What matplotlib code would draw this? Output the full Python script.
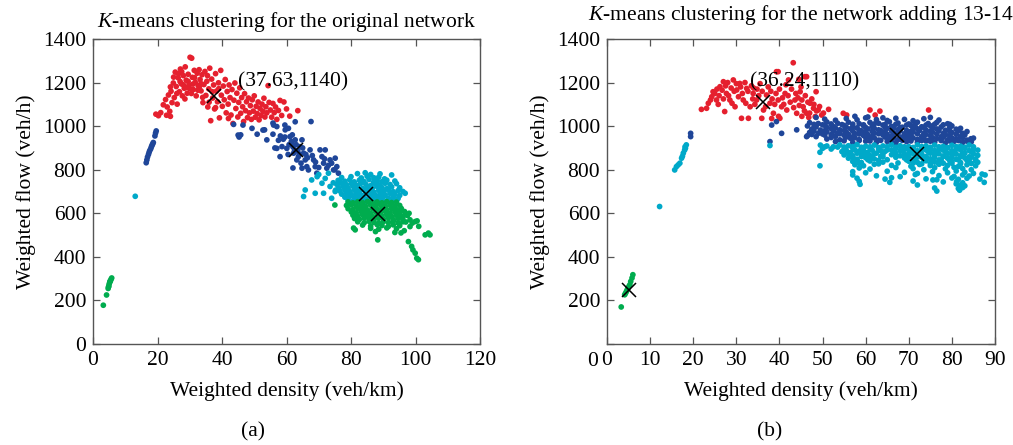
import numpy as np
import matplotlib
matplotlib.use("Agg")
import matplotlib.pyplot as plt

plt.rcParams['font.family'] = ['Liberation Serif', 'DejaVu Serif']
plt.rcParams['mathtext.fontset'] = 'custom'
plt.rcParams['mathtext.it'] = 'Liberation Serif:italic'
plt.rcParams['mathtext.rm'] = 'Liberation Serif'

# ---- panel (a): original network ----
a_red = [(19.5,1055),(20.3,1048),(21.0,1062),(21.8,1098),(22.5,1122),(23.0,1088),(23.4,1143),(23.8,1068),
         (24.2,1160),(24.5,1108),(24.9,1198),(25.2,1131),(25.5,1248),(25.8,1182),(26.1,1101),(26.4,1222),
         (26.8,1158),(27.1,1262),(27.4,1194),(27.7,1139),(28.0,1232),(28.3,1174),(28.6,1272),(28.9,1211),
         (29.2,1151),(29.5,1238),(29.8,1188),(30.1,1316),(30.6,1312),(30.8,1224),(31.1,1168),(31.4,1256),
         (31.7,1201),(32.0,1139),(32.3,1243),(32.6,1186),(32.9,1259),(33.2,1214),(33.5,1162),(33.8,1236),
         (34.1,1108),(34.4,1191),(34.7,1251),(35.0,1141),(35.3,1206),(35.6,1088),(35.9,1171),(36.2,1266),
         (36.5,1025),(36.8,1216),(37.1,1129),(37.4,1189),(37.7,1079),(38.0,1241),(38.3,1161),(38.6,1112),
         (38.9,1199),(39.2,1038),(39.6,1256),(39.8,1142),(40.1,1091),(40.4,1184),(40.7,1121),(41.0,1214),
         (41.3,1061),(41.6,1159),(41.9,1101),(42.2,1189),(42.5,1131),(42.8,1051),(43.1,1168),(43.4,1012),
         (43.7,1119),(44.0,1198),(44.3,1081),(44.6,1151),(44.9,1042),(45.2,1109),(45.5,1176),(45.8,1059),
         (46.1,1131),(46.4,1089),(46.7,1021),(47.0,1149),(47.3,1071),(47.6,1112),(47.9,1039),(48.2,1129),
         (48.5,1061),(48.8,1094),(49.1,1031),(49.4,1121),(49.7,1069),(50.0,1139),(50.3,1041),(50.6,1091),
         (50.9,1058),(51.2,1111),(51.5,1029),(51.8,1081),(52.1,1049),(52.4,1101),(52.7,1068),(53.0,1128),
         (53.3,1042),(53.6,1089),(53.9,1061),(54.3,1186),(54.6,1109),(55.0,1074),(55.4,1041),(55.8,1104),
         (56.2,1062),(56.6,1088),(57.0,1031),(57.5,1072),(58.0,1118),(58.5,1049),(59.2,1111),(60.0,1079),
         (61.0,1046),(63.5,1071),(26.5,1240),(27.0,1205),(28.0,1190),(29.0,1178),(30.0,1172),(31.0,1193),
         (33.0,1182),(34.0,1132),(24.0,1180),(25.0,1225),(26.0,1150),(27.5,1250),(29.5,1205),(31.5,1222),
         (33.5,1195),(35.5,1232),(37.0,1158),(39.0,1172),(30.5,1150),(28.5,1125),(32.5,1165),(22.8,1050),
         (24.0,1045),(36.0,1110),(42.0,1035),(38.0,1085)]

a_blue = [(16.5,832),(16.7,845),(16.9,858),(17.2,870),(17.4,880),(17.6,888),(17.9,896),(18.1,905),
          (18.3,912),(18.5,918),(18.7,925),(19.2,955),(19.4,968),(19.6,978),
          (43.6,1008),(45.3,950),(45.8,960),(49.3,990),(50.9,963),(53.2,983),(53.9,937),(55.8,963),
          (56.0,1005),(57.0,998),(58.1,955),(58.6,906),(59.6,983),(60.1,898),(60.6,990),(61.1,952),
          (61.7,921),(62.2,876),(62.7,1020),(62.7,937),(63.2,845),(63.7,860),(64.2,906),(64.8,937),
          (64.8,807),(65.3,876),(65.8,845),(66.3,814),(66.8,799),(67.3,891),(67.6,1021),(68.4,845),
          (68.9,814),(69.4,784),(70.4,891),(71.0,860),(71.5,830),(72.0,891),(72.5,807),(73.5,845),
          (74.6,799),(75.1,853),(75.6,814),(76.1,784),(61.5,930),(62.0,905),(63.0,915),(63.5,885),
          (64.0,870),(62.5,890),(60.8,915),(61.8,960),(59.0,940),(60.5,870),(65.0,900),(66.0,870),
          (64.5,830),(66.5,855),(68.0,865),(69.0,835),(70.0,810),(71.8,850),(73.0,820),(74.0,830),
          (75.0,800),(57.5,935),(59.5,950),(45.0,959),(46.5,1005),(52.7,982),(55.8,1014),(59.5,1005),
          (56.4,900),(58.0,860),(62.0,808),(57.0,898)]

a_cyan = [(13.1,678),(65.3,677),(65.8,707),(67.8,753),(68.9,692),(71.0,738),(71.5,692),(73.0,784),
          (73.5,723),(74.0,669),(75.1,700),(70.0,778),(72.0,760),(69.5,768),(76.5,748),(74.5,740),
          (82.0,782),(84.4,786),(86.1,778),(89.0,781),(92.6,776),
          (77.1,764),(80.0,768),(83.2,762),(85.0,770),(87.1,763),(88.6,766),(90.4,758),
          (76.0,751),(78.1,747),(79.6,754),(81.0,744),(82.6,752),(84.0,746),(85.6,755),(87.0,742),
          (88.1,749),(89.6,745),(91.1,752),(93.6,748),
          (75.6,733),(77.0,738),(78.6,731),(80.1,736),(81.6,729),(83.0,737),(84.6,733),(86.1,727),
          (87.6,735),(89.0,730),(90.6,738),(92.1,732),(94.1,736),
          (76.1,718),(77.6,722),(79.1,716),(80.6,724),(82.1,719),(83.6,714),(85.1,721),(86.6,716),
          (88.1,723),(89.6,718),(91.1,713),(92.6,721),(95.1,717),
          (75.2,706),(76.6,702),(78.1,708),(79.6,701),(81.1,706),(82.6,699),(84.1,707),(85.6,703),
          (87.1,697),(88.6,705),(90.1,701),(91.6,707),(93.1,699),(94.6,704),(96.1,700),
          (77.1,688),(78.6,693),(80.1,686),(81.6,691),(83.1,684),(84.6,692),(86.1,687),(87.6,683),
          (89.1,690),(90.6,685),(92.1,692),(93.6,687),(95.1,682),(96.8,692),
          (78.1,674),(79.6,678),(81.1,671),(82.6,677),(84.1,672),(85.6,668),(87.1,676),(88.6,671),
          (90.1,677),(91.6,670),(93.1,675),(94.6,668),
          (79.1,661),(80.6,657),(82.1,663),(83.6,656),(85.1,660),(86.6,664),(88.1,657),(89.6,662),
          (91.1,655),(92.6,660),(94.1,657),
          (80.2,648),(82.1,650),(84.1,646),(86.1,651),(88.1,647),(90.1,650),(92.1,646)]

a_green = [(79.1,652),(80.6,648),(82.1,653),(83.6,649),(85.1,654),(86.6,650),(88.1,652),(89.6,648),
           (91.1,653),(92.6,649),(94.1,651),
           (78.6,636),(80.1,639),(81.6,633),(83.1,637),(84.6,632),(86.1,638),(87.6,634),(89.1,639),
           (90.6,633),(92.1,637),(93.6,632),(95.1,636),
           (79.1,621),(80.6,617),(82.1,623),(83.6,619),(85.1,615),(86.6,622),(88.1,618),(89.6,624),
           (91.1,616),(92.6,621),(94.1,617),(95.6,622),
           (80.1,606),(81.6,602),(83.1,608),(84.6,604),(86.1,600),(87.6,607),(89.1,603),(90.6,609),
           (92.1,601),(93.6,606),(95.1,602),(96.6,608),
           (80.6,591),(82.1,587),(83.6,593),(85.1,589),(86.6,585),(88.1,592),(89.6,588),(91.1,594),
           (92.6,586),(94.1,591),(95.6,587),(97.1,593),
           (81.1,576),(82.6,572),(84.1,578),(85.6,574),(87.1,570),(88.6,577),(90.1,573),(91.6,579),
           (93.1,571),(94.6,576),(96.1,572),
           (82.1,561),(84.1,557),(85.6,563),(87.1,559),(88.6,555),(90.1,562),(91.6,558),(93.1,564),
           (94.6,556),(96.1,561),
           (83.6,546),(86.1,542),(88.1,548),(89.6,544),(91.6,540),(93.1,547),(95.1,543),
           (86.1,531),(88.6,527),(91.1,533),(94.1,529),(87.6,516),(93.6,512),
           (98.3,570),(99.9,562),(98.8,448),(99.9,417),(100.4,394),(100.9,387),(103.0,501),(104.0,509),
           (104.5,501),(98.3,539),(97.5,590),(98.0,600),(97.0,560),(96.5,520),(95.5,510),(80.8,532),
           (81.3,524),(88.3,478),(75.0,638),(99.0,555),(101.0,540),(100.5,565),(97.8,470),(99.2,432),
           (96.0,585),
           (3.2,178),(4.2,225),(4.7,255),(4.9,265),(5.0,275),(5.2,283),(5.4,290),(5.6,297),(5.8,303),
           (4.8,262),(5.3,288)]

a_centers = [(37.63,1140),(62.9,891),(84.7,689),(88.3,597)]

# ---- panel (b): network adding 13-14 ----
b_red = [(21.9,1077),(23.1,1082),(24.3,1135),(24.6,1158),(25.4,1120),(26.2,1181),(27.0,1204),(27.3,1067),
         (27.7,1150),(28.5,1120),(29.3,1212),(29.7,1089),(30.1,1166),(30.8,1196),(31.2,1036),(31.6,1120),
         (32.4,1173),(32.8,1036),(33.2,1089),(33.9,1150),(34.7,1120),(35.9,1036),(36.3,1074),(37.0,1143),
         (37.8,1105),(38.6,1059),(39.3,1250),(39.7,1120),(40.1,1036),(40.5,1089),(41.3,1150),(41.7,1074),
         (42.1,1212),(43.2,1291),(43.6,1120),(44.0,1059),(44.8,1158),(45.5,1089),(45.9,1227),(46.3,1059),
         (47.1,1105),(47.9,1082),(48.3,1044),(49.0,1074),(49.8,1051),(51.4,1077),(54.8,1059),(55.6,1051),
         (61.0,1074),(62.2,1051),(74.6,1074),
         (23.5,1105),(24.0,1120),(25.0,1150),(25.8,1100),(26.0,1140),(26.7,1165),(27.5,1185),(28.0,1200),
         (28.2,1140),(28.8,1175),(29.0,1105),(29.5,1160),(30.5,1135),(31.0,1180),(31.4,1150),(32.0,1200),
         (32.2,1105),(32.7,1160),(33.5,1185),(33.8,1125),(34.3,1100),(34.8,1170),(35.2,1140),(35.5,1195),
         (36.0,1160),(36.8,1090),(37.4,1180),(38.0,1160),(38.3,1125),(38.9,1100),(39.2,1150),(40.0,1170),
         (40.7,1130),(41.0,1100),(41.5,1190),(42.0,1140),(42.5,1110),(42.8,1170),(43.3,1085),(43.8,1150),
         (44.3,1130),(44.6,1095),(45.0,1180),(45.2,1120),(45.8,1070),(46.0,1140),(46.6,1110),(47.0,1060),
         (47.5,1125),(48.0,1100),(48.6,1070),(49.3,1090),(50.2,1060),(46.8,1040),(45.2,1045),(44.5,1215),
         (38.2,1035),(39.8,1045),(34.0,1175),(30.0,1195),(27.0,1125),(25.5,1170),(48.5,1158),(46.3,1227),
         (39.7,1250),(63.3,1069)]

b_blue = [(50.5,1032),(53.0,1027),(55.5,1035),(58.0,1029),(60.0,1038),(62.5,1030),(65.0,1026),(67.0,1036),
          (69.0,1031),(71.0,1025),(73.5,1034),(77.0,1028),
          (47.0,1016),(49.0,1012),(51.0,1019),(53.5,1013),(56.0,1018),(58.5,1011),(61.0,1017),(63.0,1013),
          (65.5,1020),(67.5,1014),(70.0,1010),(72.0,1018),(74.5,1012),(76.5,1017),(79.0,1011),
          (48.0,1008),(50.0,1006),(52.0,1010),(54.5,1007),(57.0,1009),(59.5,1006),(62.0,1010),(64.5,1007),
          (67.0,1009),(69.5,1005),(71.5,1008),(74.0,1005),(76.0,1009),(78.0,1006),
          (46.5,1001),(48.5,997),(50.5,1004),(52.5,998),(55.0,1003),(57.0,996),(59.5,1002),(61.5,998),
          (64.0,1005),(66.0,999),(68.5,995),(70.5,1003),(73.0,997),(75.0,1002),(77.5,996),(80.0,1001),
          (48.0,992),(51.0,994),(53.0,991),(55.5,995),(58.0,992),(60.0,994),(62.0,990),(64.5,995),
          (66.5,991),(68.0,993),(71.0,990),(73.5,994),(75.5,991),(79.5,993),(82.0,990),
          (47.5,986),(49.5,982),(52.0,989),(54.0,983),(56.5,988),(58.5,981),(60.5,987),(63.0,983),
          (65.0,990),(67.5,984),(69.5,980),(72.0,988),(74.0,982),(76.5,987),(78.5,981),(81.0,986),
          (48.0,977),(50.5,979),(52.5,976),(55.0,980),(57.0,977),(59.0,979),(61.5,976),(63.5,980),
          (66.0,977),(68.0,979),(70.5,976),(72.5,980),(75.0,977),(77.0,979),(79.5,976),(81.5,978),
          (83.5,975),
          (47.0,971),(49.0,967),(51.0,974),(53.5,968),(55.5,973),(57.5,966),(60.0,972),(62.0,968),
          (64.5,975),(66.5,969),(69.0,965),(71.0,973),(73.5,967),(75.5,972),(78.0,966),(80.0,971),
          (82.5,967),
          (47.5,962),(50.0,964),(52.0,961),(54.0,965),(56.0,962),(58.5,964),(60.5,961),(63.0,965),
          (65.0,962),(67.5,964),(70.0,961),(72.0,965),(74.0,962),(76.5,964),(78.5,961),(81.0,963),
          (83.0,960),
          (46.5,956),(48.5,952),(50.5,959),(53.0,953),(55.0,958),(57.0,951),(59.5,957),(61.5,953),
          (64.0,960),(66.0,954),(68.5,950),(70.5,958),(73.0,952),(75.0,957),(77.5,951),(79.5,956),
          (82.0,952),(84.4,942),
          (52.0,948),(55.5,950),(57.5,947),(60.0,949),(62.0,946),(64.5,950),(66.5,947),(69.0,949),
          (71.0,946),(73.5,950),(75.5,947),(78.0,949),(80.0,946),(82.5,948),(85.0,945),
          (51.0,941),(54.0,937),(56.5,944),(58.5,938),(61.0,943),(63.0,936),(65.5,942),(67.5,938),
          (70.0,945),(72.0,939),(74.5,935),(76.5,943),(79.0,937),(81.0,942),(83.5,936),
          (55.0,933),(58.5,934),(61.0,932),(63.5,935),(66.0,933),(68.5,935),(70.5,932),(73.0,934),
          (75.0,931),(77.5,934),(79.5,932),(81.5,934),(83.5,931),
          (53.0,929),(57.0,925),(60.0,931),(62.5,926),(65.0,930),(67.0,924),(69.5,929),(72.0,925),
          (74.0,932),(76.0,926),(78.5,923),(80.5,930),(82.5,925),(84.5,928),
          (37.8,929),(38.2,1005),(39.3,1021),(40.5,967),(44.0,983),(46.3,952),(19.4,967),(19.4,952),
          (75.0,1040),(79.5,1008),(60.5,1042),(64.0,1038),(48.5,1040),(57.5,1045)]

b_cyan = [(49.5,913),(51.0,909),(54.0,914),(56.0,910),(58.0,915),(60.0,908),(62.0,913),(64.0,909),
          (66.0,915),(68.0,910),(70.0,906),(72.0,914),(74.0,909),(76.0,913),(78.0,907),(80.0,912),
          (82.0,908),(84.0,913),
          (52.5,905),(55.0,904),(57.0,906),(59.0,903),(61.0,905),(63.0,902),(65.0,906),(67.0,903),
          (69.0,905),(71.0,902),(73.0,906),(75.0,903),(77.0,905),(79.0,902),(81.0,906),(83.0,903),
          (85.0,905),
          (50.0,898),(55.0,894),(57.0,899),(59.0,893),(61.0,900),(63.0,895),(65.0,891),(67.0,898),
          (69.0,894),(71.0,899),(73.0,892),(75.0,897),(77.0,893),(79.0,900),(81.0,894),(83.0,898),
          (85.0,892),
          (55.5,889),(57.5,891),(59.5,888),(61.5,890),(63.5,887),(66.0,891),(68.0,888),(70.0,890),
          (72.0,887),(74.0,891),(76.0,888),(78.0,890),(80.0,887),(82.0,891),(84.0,888),(86.0,890),
          (54.5,883),(56.5,879),(58.5,885),(60.5,880),(62.5,876),(64.5,884),(66.5,879),(68.5,886),
          (70.5,880),(72.5,875),(74.5,883),(76.5,878),(78.5,884),(80.5,879),(82.5,875),(84.5,882),
          (56.0,874),(58.0,876),(60.0,873),(62.0,875),(64.0,872),(67.0,876),(69.0,873),(71.0,875),
          (73.0,872),(75.0,876),(77.0,873),(79.0,875),(81.0,872),(83.0,876),(85.0,873),
          (55.0,868),(57.0,864),(59.0,870),(61.0,865),(63.5,861),(66.0,869),(68.0,864),(70.0,871),
          (72.0,865),(74.0,860),(76.0,868),(78.0,863),(80.0,869),(82.0,864),(84.0,859),(86.0,866),
          (57.0,859),(59.0,861),(61.5,858),(64.0,860),(67.0,857),(70.0,861),(72.0,858),(74.0,860),
          (76.0,857),(78.0,861),(80.0,858),(82.0,860),(84.5,857),
          (56.0,853),(58.0,848),(60.0,855),(62.0,850),(65.0,846),(69.0,854),(71.0,849),(73.0,856),
          (75.0,850),(77.0,845),(79.0,853),(81.0,848),(83.0,854),(85.5,849),
          (58.0,844),(60.5,846),(63.0,843),(69.5,845),(71.5,842),(73.5,846),(75.5,843),(77.5,845),
          (79.5,842),(81.5,846),(83.5,843),(85.5,841),
          (57.0,838),(59.0,833),(61.0,840),(64.0,835),(67.5,831),(70.0,839),(72.0,834),(74.0,841),
          (76.0,835),(78.0,830),(80.0,838),(82.0,833),(84.0,839),(86.0,834),
          (58.5,829),(63.0,827),(71.0,830),(73.0,827),(75.0,829),(77.0,826),(80.0,830),(82.0,827),
          (84.5,829),
          (49.4,818),(57.5,823),(59.5,818),(62.0,825),(66.0,820),(70.5,816),(72.5,824),(75.0,819),
          (77.0,826),(79.0,820),(81.5,815),(83.5,823),(85.5,818),
          (58.5,808),(61.0,803),(67.0,810),(71.0,805),(73.5,800),(76.0,809),(78.5,804),(80.5,811),
          (82.5,805),(84.5,800),
          (57.0,791),(60.0,786),(65.0,793),(69.0,788),(72.0,783),(75.5,791),(79.0,786),(81.0,794),
          (83.0,788),(85.0,783),(87.7,776),
          (57.0,776),(62.5,772),(68.0,768),(71.5,778),(77.0,773),(80.5,769),(82.5,776),(84.0,771),
          (87.0,780),
          (58.0,761),(64.5,757),(66.0,763),(74.0,758),(76.5,754),(80.0,762),(81.5,756),(83.5,761),
          (86.5,757),
          (58.5,746),(65.6,742),(71.0,748),(75.6,753),(78.0,744),(81.1,745),(82.5,740),(87.5,742),
          (58.7,733),(72.0,730),(82.0,730),(83.0,726),(81.0,735),(76.0,716),(81.5,714),(82.5,718),
          (76.5,702),(81.8,706),
          (12.2,631),(15.7,799),(16.1,814),(16.5,822),(16.9,830),(17.3,853),(17.5,862),(17.7,876),
          (18.0,890),(18.2,899),(18.4,914),(18.1,905),(37.8,911),(49.4,880),(50.5,905),(52.0,895),
          (53.5,904)]

b_green = [(3.3,170),(4.1,226),(4.5,241),(4.9,257),(5.3,272),(5.5,287),(5.8,303),(6.0,318),
           (4.7,250),(4.3,233),(5.1,265)]

b_centers = [(36.24,1110),(67.2,960),(72.0,872),(5.0,250)]

RED, BLUE, CYAN, GREEN = '#E5202E', '#1F4699', '#00A9C9', '#00AC4E'
FS = 15.5

fig = plt.figure(figsize=(10.13, 4.45), dpi=100)
ax1 = fig.add_axes([93/1013, 101/445, 387/1013, 305/445])
ax2 = fig.add_axes([607/1013, 101/445, 388/1013, 305/445])


def draw(ax, groups, centers):
    for pts, c in groups:
        xy = np.array(pts)
        ax.scatter(xy[:, 0], xy[:, 1], s=17, c=c, edgecolors='none', zorder=2)
    cxy = np.array(centers)
    ax.plot(cxy[:, 0], cxy[:, 1], 'x', color='black', ms=10, mew=1.1, zorder=3)
    ax.tick_params(direction='in', top=True, right=True, labelsize=FS, length=5, width=0.9, pad=5,
                   color='#555555')
    for s in ax.spines.values():
        s.set_color('#555555')
        s.set_linewidth(1.0)
    ax.set_ylim(0, 1400)
    ax.set_ylabel('Weighted flow (veh/h)', fontsize=FS, labelpad=5)
    ax.set_xlabel('Weighted density (veh/km)', fontsize=FS, labelpad=8)


draw(ax1, [(a_red, RED), (a_blue, BLUE), (a_cyan, CYAN), (a_green, GREEN)], a_centers)
ax1.set_xlim(0, 120)
ax1.set_xticks(range(0, 121, 20))
ax1.set_yticks(range(0, 1401, 200))
ax1.set_title('$K$-means clustering for the original network', fontsize=FS, pad=9)
ax1.text(45, 1203, '(37.63,1140)', fontsize=FS, va='center', ha='left')

draw(ax2, [(b_red, RED), (b_blue, BLUE), (b_cyan, CYAN), (b_green, GREEN)], b_centers)
ax2.set_xlim(0, 90)
ax2.set_xticks(range(0, 91, 10))
ax2.set_yticks(range(0, 1401, 200))
ax2.set_yticklabels([''] + [str(v) for v in range(200, 1401, 200)])
ax2.set_title('$K$-means clustering for the network adding 13-14', fontsize=FS, pad=14)
ax2.text(33.2, 1203, '(36.24,1110)', fontsize=FS, va='center', ha='left')
fig.text(593/1013, 1 - 361/445, '0', fontsize=FS, ha='center', va='center')

fig.text(253/1013, 1 - 432/445, '(a)', fontsize=FS, ha='center', va='center')
fig.text(770/1013, 1 - 432/445, '(b)', fontsize=FS, ha='center', va='center')

fig.savefig('out.png', dpi=100)
